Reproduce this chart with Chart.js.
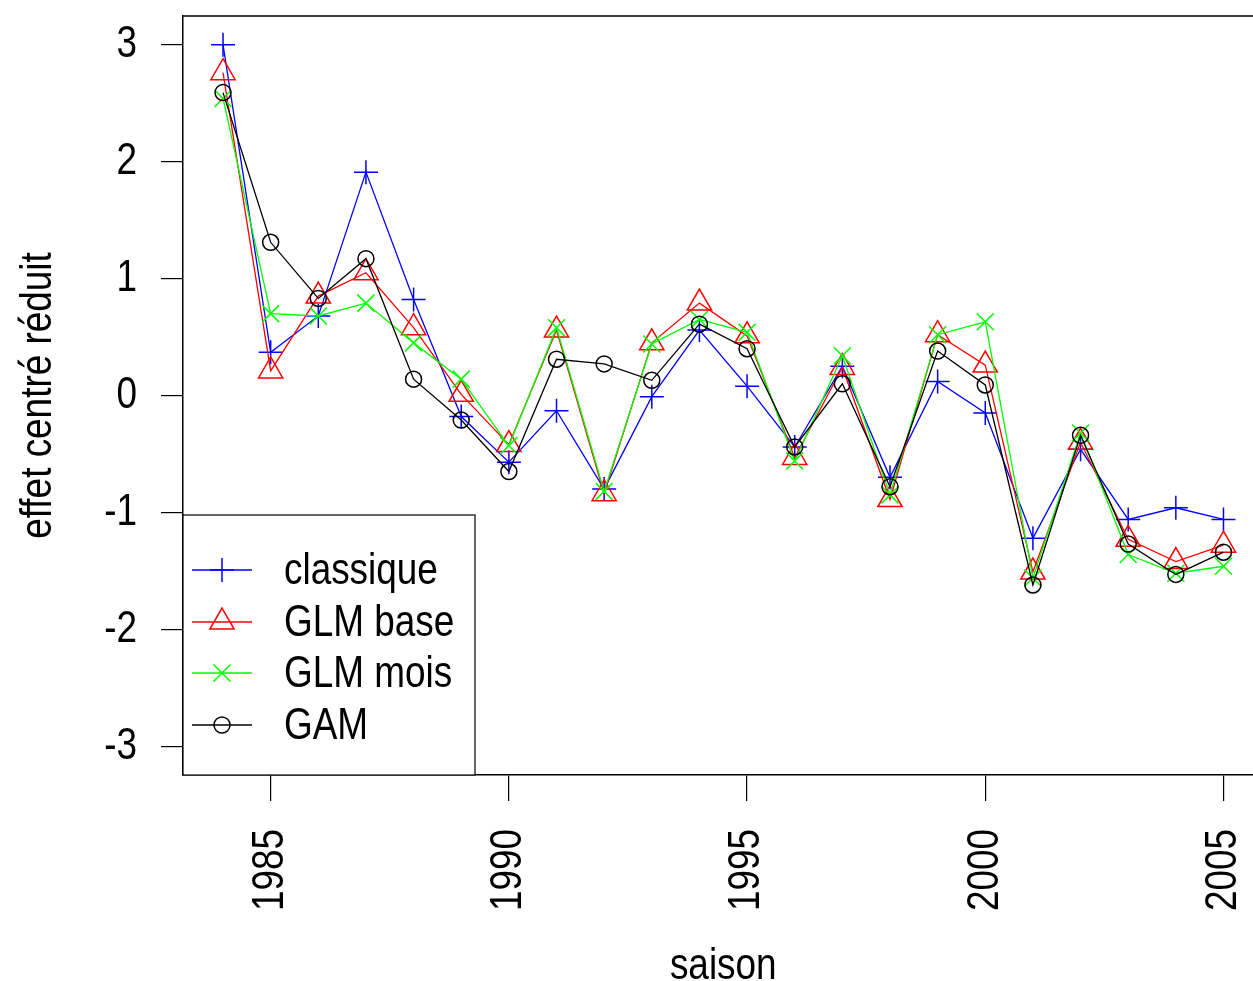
<!DOCTYPE html>
<html lang="fr">
<head>
    <meta charset="UTF-8">
    <title>Effet centré réduit par saison</title>
    <script src="https://cdn.jsdelivr.net/npm/chart.js"></script>
    <style>
        html, body {
            margin: 0;
            padding: 0;
            background: #ffffff;
            overflow: hidden;
        }
        #wrap {
            width: 1279px;
            height: 981px;
        }
    </style>
</head>
<body>
    <div id="wrap"><canvas id="chart" width="1279" height="981"></canvas></div>

    <script>
        const years = [1984, 1985, 1986, 1987, 1988, 1989, 1990, 1991, 1992, 1993, 1994,
                       1995, 1996, 1997, 1998, 1999, 2000, 2001, 2002, 2003, 2004, 2005];
        const classique = [3.00, 0.37, 0.68, 1.91, 0.82, -0.18, -0.57, -0.13, -0.80, -0.01, 0.56,
                           0.08, -0.44, 0.25, -0.70, 0.12, -0.15, -1.22, -0.46, -1.06, -0.96, -1.06];
        const glmBase = [2.76, 0.21, 0.85, 1.05, 0.58, 0.01, -0.42, 0.56, -0.84, 0.45, 0.79,
                         0.51, -0.53, 0.24, -0.89, 0.52, 0.26, -1.51, -0.40, -1.23, -1.42, -1.28];
        const glmMois = [2.54, 0.70, 0.68, 0.79, 0.45, 0.14, -0.43, 0.58, -0.82, 0.44, 0.65,
                         0.54, -0.56, 0.34, -0.85, 0.52, 0.63, -1.56, -0.32, -1.36, -1.52, -1.46];
        const gam = [2.59, 1.31, 0.83, 1.17, 0.14, -0.21, -0.65, 0.31, 0.27, 0.13, 0.61,
                     0.40, -0.44, 0.10, -0.78, 0.38, 0.09, -1.62, -0.34, -1.27, -1.53, -1.34];
        const seriesNames = ['classique', 'GLM base', 'GLM mois', 'GAM'];
        const xTicks = [1985, 1990, 1995, 2000, 2005];
        const yTicks = [-3, -2, -1, 0, 1, 2, 3];

        const fontFamily = "'Liberation Sans', Arial, sans-serif";
        const squeeze = 0.82; // no narrow font installed, so condense the text by hand
        Chart.defaults.color = '#000';
        Chart.defaults.font.family = fontFamily;

        const styles = [
            { color: '#0000ff', point: 'cross', radius: 12 },
            { color: '#ff0000', point: 'triangle', radius: 14 },
            { color: '#00ff00', point: 'crossRot', radius: 12 },
            { color: '#000000', point: 'circle', radius: 8 }
        ];

        const toPoints = arr => arr.map((v, i) => ({ x: years[i], y: v }));
        const allSeries = [classique, glmBase, glmMois, gam];

        const datasets = allSeries.map((arr, i) => ({
            label: seriesNames[i],
            data: toPoints(arr),
            borderColor: styles[i].color,
            backgroundColor: 'rgba(0,0,0,0)',
            borderWidth: 1.3,
            pointStyle: styles[i].point,
            pointRadius: styles[i].radius,
            pointBorderWidth: 1.5,
            pointBorderColor: styles[i].color,
            pointBackgroundColor: 'rgba(0,0,0,0)',
            tension: 0,
            order: 4 - i
        }));

        const ctx = document.getElementById('chart').getContext('2d');

        // condensed text: squeeze every string along its own direction
        const rawFillText = ctx.fillText.bind(ctx);
        const rawMeasure = ctx.measureText.bind(ctx);
        ctx.fillText = function (text, x, y, maxWidth) {
            ctx.save();
            ctx.translate(x, y);
            ctx.scale(squeeze, 1);
            if (maxWidth !== undefined) rawFillText(text, 0, 0, maxWidth / squeeze);
            else rawFillText(text, 0, 0);
            ctx.restore();
        };
        ctx.measureText = function (text) {
            const m = rawMeasure(text);
            return {
                width: m.width * squeeze,
                actualBoundingBoxAscent: m.actualBoundingBoxAscent,
                actualBoundingBoxDescent: m.actualBoundingBoxDescent
            };
        };

        const noPad = scale => {
            scale.paddingLeft = 0;
            scale.paddingRight = 0;
            scale.paddingTop = 0;
            scale.paddingBottom = 0;
        };

        // R style box (top edge) and legend
        const frameAndLegend = {
            id: 'frameAndLegend',
            afterDraw(chart) {
                const { ctx, chartArea: a } = chart;
                ctx.save();
                ctx.strokeStyle = '#000';
                ctx.lineWidth = 1.5;
                ctx.beginPath();
                ctx.moveTo(a.left, a.top);
                ctx.lineTo(a.right, a.top);
                ctx.lineTo(a.right, a.bottom);
                ctx.stroke();

                // legend
                const lx = 183, ly = 515, lw = 292, lh = 260;
                ctx.fillStyle = '#fff';
                ctx.fillRect(lx, ly, lw, lh);
                ctx.lineWidth = 1.2;
                ctx.strokeRect(lx, ly, lw, lh);

                const rows = [570, 622, 673, 725];
                ctx.font = '45px ' + fontFamily;
                ctx.textBaseline = 'middle';
                ctx.textAlign = 'left';
                seriesNames.forEach((name, i) => {
                    const y = rows[i];
                    ctx.strokeStyle = styles[i].color;
                    ctx.lineWidth = 1.3;
                    ctx.beginPath();
                    ctx.moveTo(192, y);
                    ctx.lineTo(252, y);
                    ctx.stroke();
                    ctx.lineWidth = 1.5;
                    ctx.fillStyle = 'rgba(0,0,0,0)';
                    Chart.helpers.drawPoint(ctx, {
                        pointStyle: styles[i].point,
                        radius: styles[i].radius,
                        rotation: 0,
                        borderWidth: 1.5
                    }, 222, y);
                    ctx.fillStyle = '#000';
                    ctx.fillText(name, 284, y + 2);
                });
                ctx.restore();
            }
        };

        new Chart(ctx, {
            type: 'line',
            data: { datasets: datasets },
            options: {
                responsive: false,
                devicePixelRatio: 1,
                animation: false,
                layout: { padding: { top: 16, right: 6, left: 0, bottom: 0 } },
                plugins: {
                    legend: { display: false },
                    tooltip: { enabled: false }
                },
                scales: {
                    x: {
                        type: 'linear',
                        min: 1983.16,
                        max: 2005.84,
                        afterBuildTicks: scale => { scale.ticks = xTicks.map(v => ({ value: v })); },
                        afterFit: scale => { scale.height = 206; noPad(scale); },
                        grid: { display: true, drawOnChartArea: false, drawTicks: true, tickLength: 26, color: '#000', lineWidth: 1.2 },
                        border: { display: true, color: '#000', width: 1.5 },
                        ticks: {
                            autoSkip: false,
                            minRotation: 90,
                            maxRotation: 90,
                            padding: 28,
                            font: { size: 45 },
                            callback: v => String(v)
                        },
                        title: {
                            display: true,
                            text: 'saison',
                            font: { size: 45, lineHeight: 0.66 },
                            padding: { top: 0, bottom: 0 }
                        }
                    },
                    y: {
                        min: -3.245,
                        max: 3.245,
                        afterBuildTicks: scale => { scale.ticks = yTicks.map(v => ({ value: v })); },
                        afterFit: scale => { scale.width = 183; noPad(scale); },
                        grid: { display: true, drawOnChartArea: false, drawTicks: true, tickLength: 22, color: '#000', lineWidth: 1.2 },
                        border: { display: true, color: '#000', width: 1.5 },
                        ticks: {
                            padding: 24,
                            font: { size: 45 },
                            callback: v => String(v)
                        },
                        title: {
                            display: true,
                            text: 'effet centré réduit',
                            font: { size: 45 },
                            padding: { top: 12, bottom: 0 }
                        }
                    }
                }
            },
            plugins: [frameAndLegend]
        });
    </script>
</body>
</html>
